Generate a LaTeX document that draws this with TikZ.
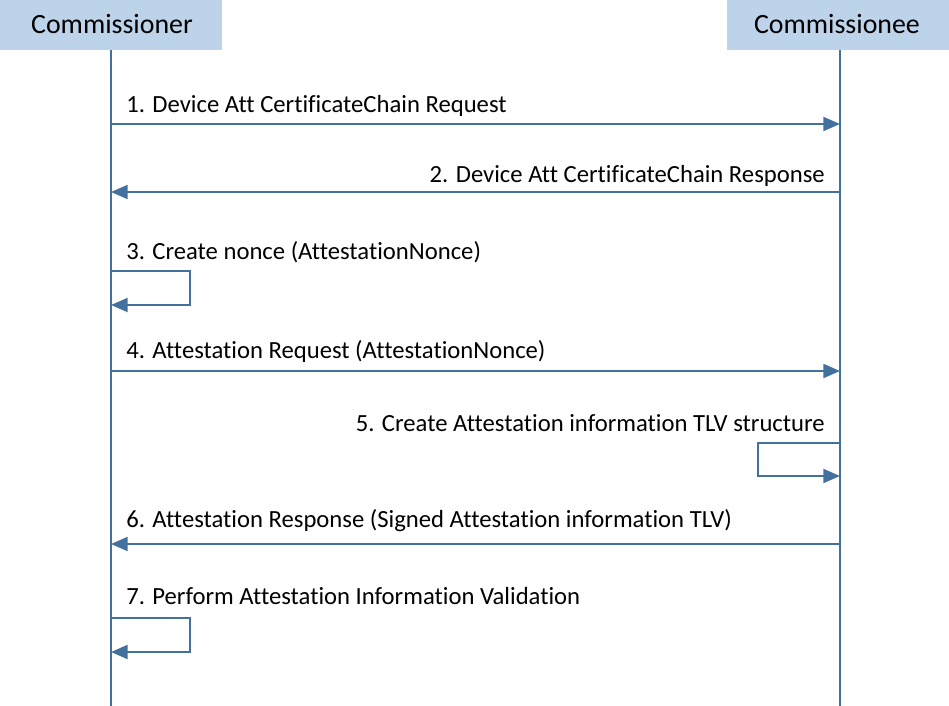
\documentclass[tikz,border=0pt]{standalone}
\usepackage{fontspec}
\setmainfont{Carlito}[Ligatures={NoCommon}]
\usetikzlibrary{arrows.meta}
\definecolor{lineblue}{HTML}{41719C}
\definecolor{boxblue}{HTML}{BDD3EA}
\begin{document}
\begin{tikzpicture}[x=0.75pt,y=-0.75pt,
  header/.style={fill=boxblue,draw=none,minimum width=166.5pt,minimum height=37.5pt,inner sep=0pt},
  lifeline/.style={draw=lineblue,line width=1.5pt},
  msg/.style={draw=lineblue,line width=1.5pt,-{Triangle[length=12.5pt,width=10.5pt]}},
  lbl/.style={inner sep=0pt,font=\fontsize{18.5}{22}\selectfont},
  htxt/.style={inner sep=0pt,font=\fontsize{20.9}{24}\selectfont}]
\useasboundingbox (0,0) rectangle (949,706);
% headers
\node[header] (A) at (111,25) {};
\node[header] (B) at (838,25) {};
\node[htxt,anchor=base] (At) at (112,34) {Commissioner};
\node[htxt,anchor=base] (Bt) at (837,34) {Commissionee};
% lifelines
\coordinate (Atop) at (111,50);
\coordinate (Btop) at (840,50);
\coordinate (Aend) at (111,706);
\coordinate (Bend) at (840,706);
\draw[lifeline] (Atop) -- (Aend);
\draw[lifeline] (Btop) -- (Bend);
% coordinates
\coordinate (a1) at (111,124); \coordinate (b1) at (840,124);
\coordinate (a2) at (111,192); \coordinate (b2) at (840,192);
\coordinate (a3) at (111,271); \coordinate (c3) at (190,271); \coordinate (d3) at (190,305); \coordinate (e3) at (111,305);
\coordinate (a4) at (111,371); \coordinate (b4) at (840,371);
\coordinate (a5) at (840,443); \coordinate (c5) at (758,443); \coordinate (d5) at (758,476); \coordinate (e5) at (840,476);
\coordinate (a6) at (111,544); \coordinate (b6) at (840,544);
\coordinate (a7) at (111,618); \coordinate (c7) at (190,618); \coordinate (d7) at (190,652); \coordinate (e7) at (111,652);
% messages
\draw[msg] (a1) -- (b1);
\draw[msg] (b2) -- (a2);
\draw[msg] (a3) -- (c3) -- (d3) -- (e3);
\draw[msg] (a4) -- (b4);
\draw[msg] (a5) -- (c5) -- (d5) -- (e5);
\draw[msg] (b6) -- (a6);
\draw[msg] (a7) -- (c7) -- (d7) -- (e7);
% labels
\node[lbl,anchor=base west] (l1) at (126,113) {1. Device Att CertificateChain Request};
\node[lbl,anchor=base east] (l2) at (825,182) {2. Device Att CertificateChain Response};
\node[lbl,anchor=base west] (l3) at (126,259) {3. Create nonce (AttestationNonce)};
\node[lbl,anchor=base west] (l4) at (126,358) {4. Attestation Request (AttestationNonce)};
\node[lbl,anchor=base east] (l5) at (825,431) {5. Create Attestation information TLV structure};
\node[lbl,anchor=base west] (l6) at (126,527) {6. Attestation Response (Signed Attestation information TLV)};
\node[lbl,anchor=base west] (l7) at (126,604) {7. Perform Attestation Information Validation};
\end{tikzpicture}
\end{document}
